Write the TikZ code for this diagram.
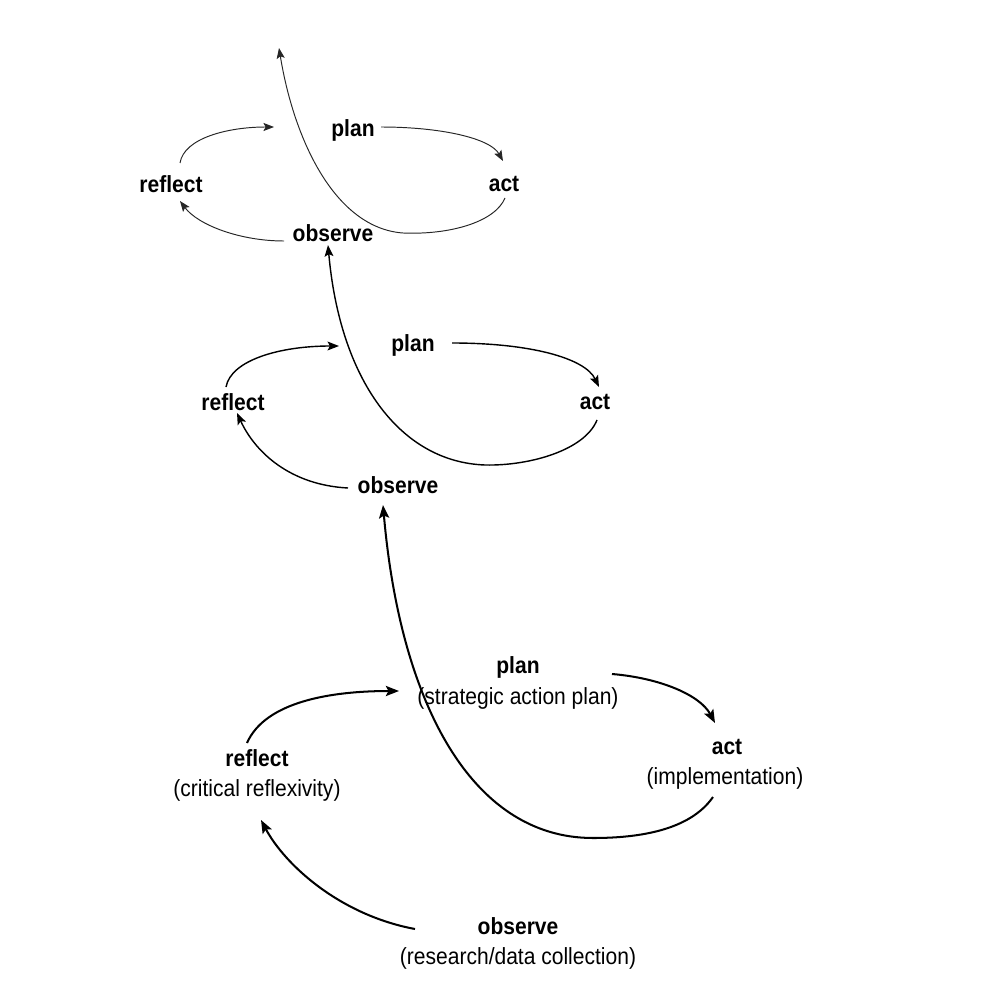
\documentclass[tikz,border=0pt]{standalone}
\usepackage{fontspec}
\setmainfont[FakeStretch=0.9]{Liberation Sans}
\usetikzlibrary{arrows.meta}
\begin{document}
\begin{tikzpicture}[x=0.02cm,y=-0.02cm,
  lbl/.style={font=\fontsize{13.3}{16}\selectfont\bfseries, inner sep=0pt},
  sub/.style={font=\fontsize{13.3}{16}\selectfont, inner sep=0pt},
  thinarr/.style={draw=black!85, line width=0.55pt, -{Stealth[length=6pt,width=4.6pt,inset=1.2pt]}},
  midarr/.style={draw=black, line width=0.8pt, -{Stealth[length=6.5pt,width=5pt,inset=1.3pt]}},
  thickarr/.style={draw=black, line width=1.15pt, -{Stealth[length=7.5pt,width=5.8pt,inset=1.5pt]}}]
\useasboundingbox (0,0) rectangle (1000,1000);

% ---------- top cycle ----------
\node[lbl] (p1) at (353,130) {plan};
\node[lbl] (a1) at (504,184) {act};
\node[lbl] (r1) at (171,184) {reflect};
\node[lbl] (o1) at (333,233) {observe};
\coordinate (r1s) at (180,163);
\coordinate (p1e) at (274,127);
\coordinate (p1s) at (381,127);
\coordinate (a1e) at (503,161);
\coordinate (o1s) at (284,241);
\coordinate (r1e) at (180,201);
\coordinate (a1s) at (505,198);
\coordinate (b1) at (403,233);
\coordinate (top) at (279,48);
\draw[thinarr] (r1s) .. controls (184,138) and (228,127) .. (p1e);
\draw[thinarr] (p1s) .. controls (440,127) and (490,138) .. (a1e);
\draw[thinarr] (o1s) .. controls (240,241) and (198,225) .. (r1e);
\draw[thinarr] (a1s) .. controls (495,222) and (450,235) .. (b1)
  .. controls (335,228) and (294,140) .. (top);

% ---------- middle cycle ----------
\node[lbl] (p2) at (413,345) {plan};
\node[lbl] (a2) at (595,402) {act};
\node[lbl] (r2) at (233,402) {reflect};
\node[lbl] (o2) at (398,485) {observe};
\coordinate (r2s) at (226,387);
\coordinate (p2e) at (339,346);
\coordinate (p2s) at (452,343);
\coordinate (a2e) at (599,387);
\coordinate (o2s) at (348,488);
\coordinate (r2e) at (237,413);
\coordinate (a2s) at (597,420);
\coordinate (b2) at (485,465);
\coordinate (o1e) at (328,245);
\draw[midarr] (r2s) .. controls (231,360) and (280,346) .. (p2e);
\draw[midarr] (p2s) .. controls (530,343) and (585,358) .. (a2e);
\draw[midarr] (o2s) .. controls (290,485) and (255,452) .. (r2e);
\draw[midarr] (a2s) .. controls (585,450) and (530,466) .. (b2)
  .. controls (400,462) and (340,380) .. (o1e);

% ---------- bottom cycle ----------
\node[lbl] (p3) at (518,667) {plan};
\node[sub] (p3d) at (518,698) {(strategic action plan)};
\node[lbl] (a3) at (727,747) {act};
\node[sub] (a3d) at (725,778) {(implementation)};
\node[lbl] (r3) at (257,758) {reflect};
\node[sub] (r3d) at (257,790) {(critical reflexivity)};
\node[lbl] (o3) at (518,926) {observe};
\node[sub] (o3d) at (518,958) {(research/data collection)};
\coordinate (r3s) at (247,743);
\coordinate (p3e) at (399,691);
\coordinate (p3s) at (612,674);
\coordinate (a3e) at (715,723);
\coordinate (o3s) at (415,929);
\coordinate (r3e) at (261,820);
\coordinate (a3s) at (713,797);
\coordinate (b3) at (593,838);
\coordinate (o2e) at (383,505);
\draw[thickarr] (r3s) .. controls (265,702) and (330,691) .. (p3e);
\draw[thickarr] (p3s) .. controls (660,678) and (700,695) .. (a3e);
\draw[thickarr] (o3s) .. controls (340,915) and (285,865) .. (r3e);
\draw[thickarr] (a3s) .. controls (690,830) and (640,838) .. (b3)
  .. controls (470,838) and (400,700) .. (o2e);
\end{tikzpicture}
\end{document}
